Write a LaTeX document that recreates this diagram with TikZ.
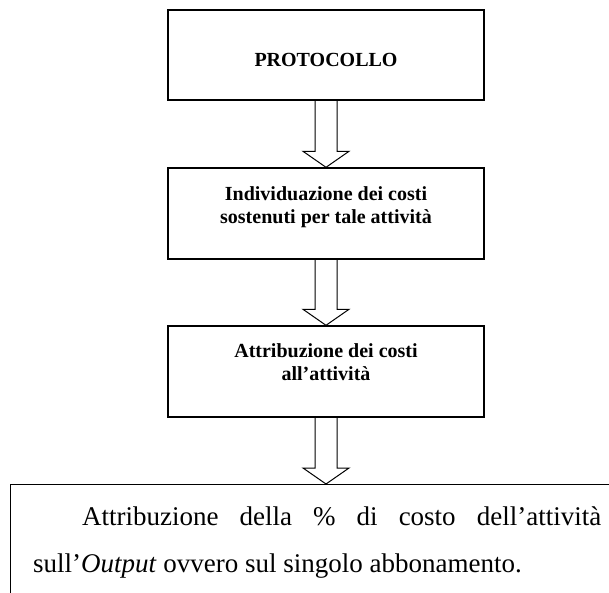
\documentclass[tikz,border=0pt]{standalone}
\usepackage{fontspec}
\setmainfont{Liberation Serif}
\usetikzlibrary{calc}

\tikzset{
  box/.style={draw, line width=1.4pt, minimum width=316pt, minimum height=90pt,
    inner sep=0pt, align=center, font=\fontsize{20}{23}\selectfont\bfseries},
  outbox/.style={draw, line width=0.8pt, minimum width=640pt, minimum height=150pt, inner sep=0pt},
  outtext/.style={inner sep=0pt, text width=568pt, align=justify, font=\fontsize{27}{47}\selectfont},
  arrowline/.style={line width=1pt, line join=miter},
}

% hollow block arrow from the bottom of #1 to the top of #2
\newcommand{\blockarrow}[2]{%
  \draw[arrowline] ($(#1.south)+(-11,0)$) -- ($(#1.south |- #2.north)+(-11,16)$)
    -- ($(#1.south |- #2.north)+(-23,16)$) -- (#1.south |- #2.north)
    -- ($(#1.south |- #2.north)+(23,16)$) -- ($(#1.south |- #2.north)+(11,16)$)
    -- ($(#1.south)+(11,0)$);}

\begin{document}
\begin{tikzpicture}[x=1pt, y=1pt]
  \useasboundingbox (0,0) rectangle (609,-592);

  \node[box, text height=23pt] (proto) at (326,-55) {PROTOCOLLO};
  \node[box, minimum height=91pt, text depth=17.5pt] (ind) at (326,-213.5)
    {Individuazione dei costi\\sostenuti per tale attività};
  \node[box, minimum height=91pt, text depth=19pt] (attr) at (326,-371.5)
    {Attribuzione dei costi\\all’attività};

  % last step, wider than the page
  \node[outbox, anchor=north west] (out) at (10,-484) {};
  \node[outtext, anchor=north west] (outtxt) at ($(out.north west)+(23,-22.5)$)
    {\hspace*{49pt}Attribuzione della \% di costo dell’attività\linebreak
     sull’\textit{Output} ovvero sul singolo abbonamento.};

  % arrows
  \blockarrow{proto}{ind}
  \blockarrow{ind}{attr}
  \blockarrow{attr}{out}
\end{tikzpicture}
\end{document}
